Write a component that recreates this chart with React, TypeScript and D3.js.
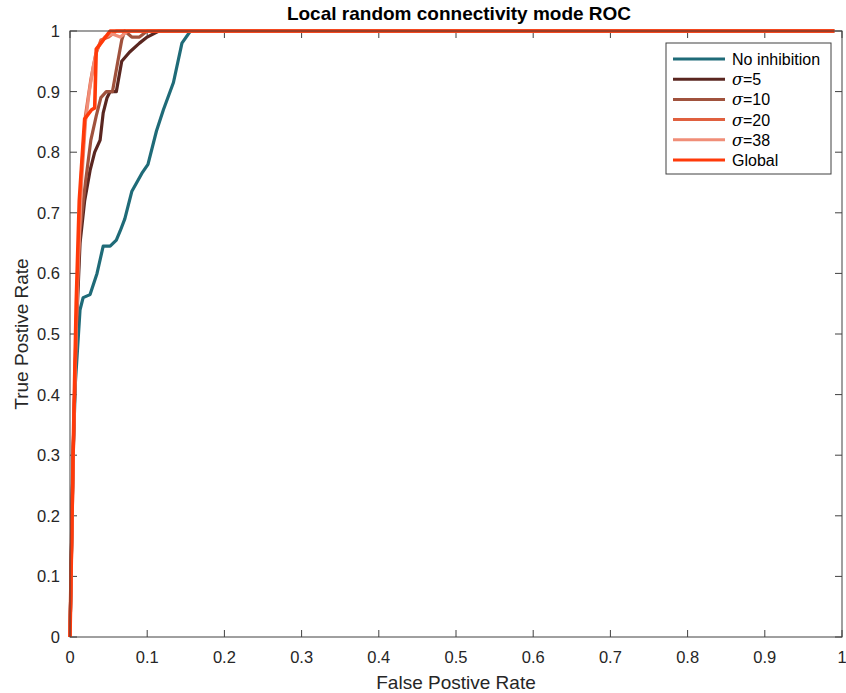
import React from "react";
import * as d3 from "d3";

const seriesNames = ["No inhibition", "σ=5", "σ=10", "σ=20", "σ=38", "Global"];
const seriesColors = ["#1f6b78", "#5a2620", "#a0523d", "#e0603f", "#f08e78", "#ff3a0a"];

const noInhFPR = [0, 0.004, 0.007, 0.011, 0.013, 0.017, 0.026, 0.035, 0.043, 0.052, 0.06, 0.065, 0.071, 0.08, 0.093, 0.101, 0.112, 0.121, 0.134, 0.145, 0.156, 0.99];
const noInhTPR = [0, 0.3, 0.42, 0.5, 0.54, 0.56, 0.565, 0.6, 0.645, 0.645, 0.655, 0.67, 0.69, 0.735, 0.765, 0.78, 0.835, 0.87, 0.915, 0.98, 1, 1];

const s5FPR = [0, 0.004, 0.008, 0.013, 0.019, 0.026, 0.032, 0.039, 0.043, 0.048, 0.052, 0.06, 0.067, 0.077, 0.09, 0.1, 0.115, 0.99];
const s5TPR = [0, 0.3, 0.5, 0.65, 0.72, 0.77, 0.8, 0.82, 0.865, 0.89, 0.9, 0.9, 0.95, 0.965, 0.98, 0.99, 1, 1];

const s10FPR = [0, 0.004, 0.008, 0.013, 0.02, 0.027, 0.034, 0.04, 0.047, 0.055, 0.062, 0.067, 0.071, 0.08, 0.09, 0.1, 0.99];
const s10TPR = [0, 0.3, 0.52, 0.67, 0.75, 0.82, 0.86, 0.89, 0.9, 0.9, 0.95, 0.985, 1, 0.99, 0.99, 1, 1];

const s20FPR = [0, 0.005, 0.01, 0.015, 0.02, 0.027, 0.033, 0.04, 0.05, 0.06, 0.07, 0.99];
const s20TPR = [0, 0.35, 0.6, 0.77, 0.86, 0.92, 0.96, 0.985, 0.99, 1, 1, 1];

const s38FPR = [0, 0.005, 0.01, 0.015, 0.02, 0.025, 0.03, 0.035, 0.045, 0.055, 0.065, 0.075, 0.99];
const s38TPR = [0, 0.35, 0.6, 0.75, 0.85, 0.9, 0.94, 0.97, 0.99, 0.995, 0.99, 1, 1];

const globalFPR = [0, 0.004, 0.008, 0.012, 0.019, 0.028, 0.032, 0.034, 0.04, 0.052, 0.99];
const globalTPR = [0, 0.3, 0.55, 0.72, 0.855, 0.87, 0.873, 0.97, 0.98, 1, 1];

const xTicks = [0, 0.1, 0.2, 0.3, 0.4, 0.5, 0.6, 0.7, 0.8, 0.9, 1];
const yTicks = [0, 0.1, 0.2, 0.3, 0.4, 0.5, 0.6, 0.7, 0.8, 0.9, 1];

const allX = [noInhFPR, s5FPR, s10FPR, s20FPR, s38FPR, globalFPR];
const allY = [noInhTPR, s5TPR, s10TPR, s20TPR, s38TPR, globalTPR];

export default function App() {
  const W = 846, H = 693;
  const left = 70, right = 842, top = 31, bottom = 637;
  const x = d3.scaleLinear().domain([0, 1]).range([left, right]);
  const y = d3.scaleLinear().domain([0, 1]).range([bottom, top]);
  const line = d3.line<[number, number]>().x(d => x(d[0])).y(d => y(d[1]));
  const font = "'Liberation Sans', Arial, Helvetica, sans-serif";
  const axisColor = "#404040";
  const tickLen = 7;
  const fmt = (v: number) => (v === 0 ? "0" : v === 1 ? "1" : String(v));

  const legX = 666, legY = 43, legW = 165, legH = 131;
  const legendRows = seriesNames.map((n, i) => ({ n, c: seriesColors[i], yy: 59 + i * 20.2 }));

  const renderLabel = (n: string) => {
    if (n.startsWith("σ")) {
      return (
        <>
          <tspan fontStyle="italic" fontFamily="'DejaVu Serif', 'Liberation Serif', serif">σ</tspan>
          <tspan>{n.slice(1)}</tspan>
        </>
      );
    }
    return n;
  };

  return (
    <svg width={W} height={H} style={{ position: "absolute", left: 0, top: 0, background: "#fff" }} fontFamily={font}>
      <rect x={0} y={0} width={W} height={H} fill="#fff" />
      {xTicks.map((t, i) => (
        <g key={"xt" + i}>
          <line x1={x(t)} x2={x(t)} y1={bottom} y2={bottom - tickLen} stroke={axisColor} strokeWidth={1} />
          <line x1={x(t)} x2={x(t)} y1={top} y2={top + tickLen} stroke={axisColor} strokeWidth={1} />
          <text x={x(t)} y={bottom + 26} textAnchor="middle" fontSize={16.5} fill="#262626">{fmt(t)}</text>
        </g>
      ))}
      {yTicks.map((t, i) => (
        <g key={"yt" + i}>
          <line x1={left} x2={left + tickLen} y1={y(t)} y2={y(t)} stroke={axisColor} strokeWidth={1} />
          <line x1={right} x2={right - tickLen} y1={y(t)} y2={y(t)} stroke={axisColor} strokeWidth={1} />
          <text x={left - 10} y={y(t) + 6} textAnchor="end" fontSize={16.5} fill="#262626">{fmt(t)}</text>
        </g>
      ))}
      {allX.map((xs, i) => (
        <path
          key={"s" + i}
          d={line(xs.map((v, j) => [v, allY[i][j]] as [number, number])) || ""}
          fill="none"
          stroke={seriesColors[i]}
          strokeWidth={i === 5 ? 3.6 : 3.2}
          strokeLinejoin="round"
        />
      ))}
      <rect x={left} y={top} width={right - left} height={bottom - top} fill="none" stroke={axisColor} strokeWidth={1} />
      <text x={(left + right) / 2 + 3} y={20} textAnchor="middle" fontSize={19} fontWeight="bold" fill="#000">Local random connectivity mode ROC</text>
      <text x={(left + right) / 2} y={689} textAnchor="middle" fontSize={19} fill="#262626">False Postive Rate</text>
      <text transform={`translate(28, ${(top + bottom) / 2}) rotate(-90)`} textAnchor="middle" fontSize={19} fill="#262626">True Postive Rate</text>
      <rect x={legX} y={legY} width={legW} height={legH} fill="#fff" stroke={axisColor} strokeWidth={1} />
      {legendRows.map((r, i) => (
        <g key={"lg" + i}>
          <line x1={673} x2={725} y1={r.yy} y2={r.yy} stroke={r.c} strokeWidth={3} />
          <text x={732} y={r.yy + 6} fontSize={16} fill="#000">{renderLabel(r.n)}</text>
        </g>
      ))}
    </svg>
  );
}
